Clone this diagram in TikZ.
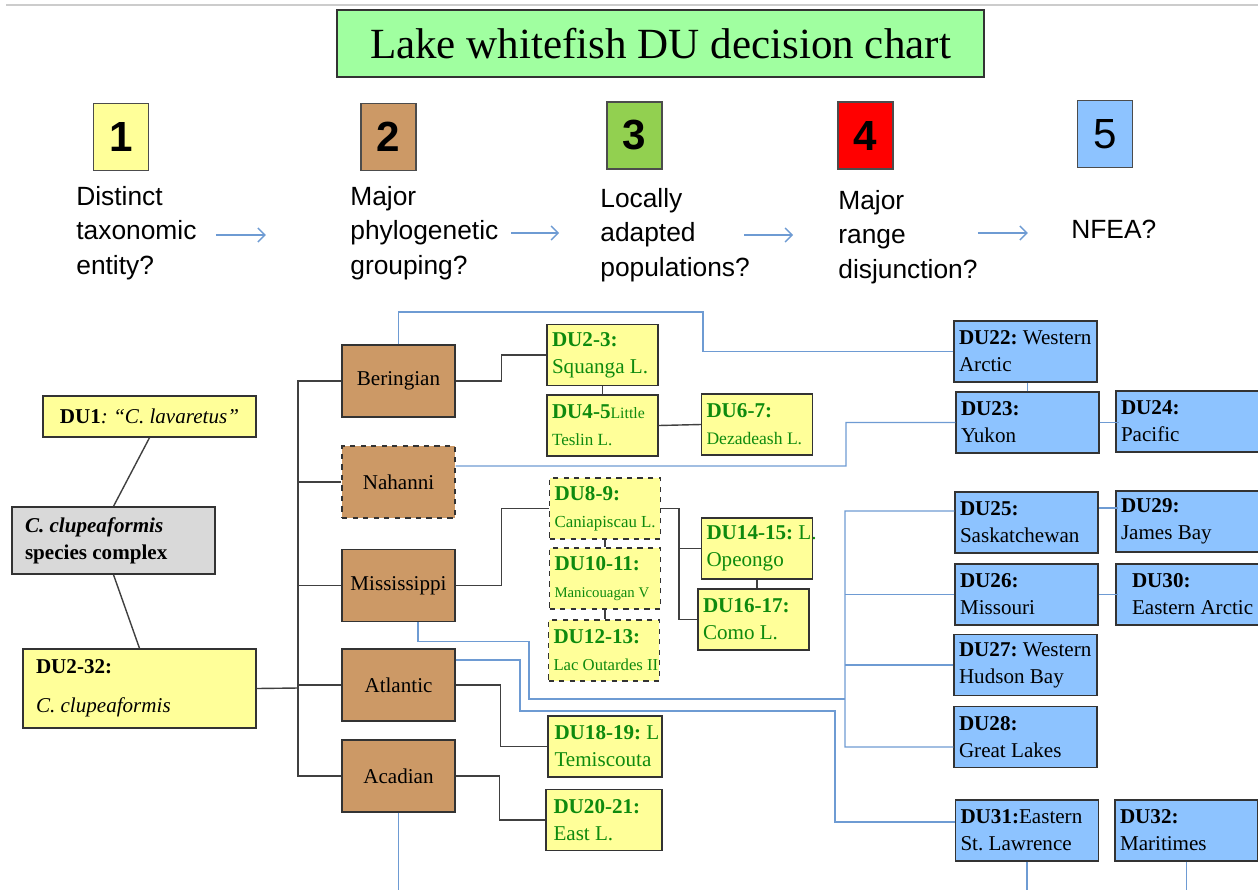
\documentclass[tikz,border=0pt]{standalone}
\usepackage{fontspec}
\setmainfont{Liberation Serif}
\newfontfamily\arialfont{Liberation Sans}
\usepackage{xcolor}
\definecolor{TitleGreen}{HTML}{A0FFA0}
\definecolor{DUyellow}{HTML}{FFFF99}
\definecolor{DUbrown}{HTML}{CC9966}
\definecolor{DUgray}{HTML}{D9D9D9}
\definecolor{DUblue}{HTML}{8DC3FF}
\definecolor{StepGreen}{HTML}{92D050}
\definecolor{StepRed}{HTML}{FF0000}
\definecolor{LineBlue}{HTML}{6E9BD3}
\definecolor{DUgreen}{HTML}{0E8A0E}
\usepackage{tikz}
\usetikzlibrary{arrows.meta}
\frenchspacing
\tikzset{
  stepnum/.style={
    rectangle, draw=black!70, line width=0.9pt,
    minimum width=1.1cm, minimum height=1.34cm, inner sep=0pt,
    font=\arialfont\fontsize{24}{28}\selectfont
  },
  qtext/.style={anchor=west, align=left, inner sep=0pt,
    font=\arialfont\fontsize{15}{19.8}\selectfont},
  ybox/.style={
    rectangle, draw=black!80, line width=0.8pt, fill=DUyellow,
    minimum width=2.22cm, minimum height=1.22cm,
    text width=2.02cm, inner xsep=0.1cm, inner ysep=0pt, align=flush left,
    text=DUgreen, font=\fontsize{12}{15.3}\selectfont
  },
  bbox/.style={
    rectangle, draw=black!80, line width=0.8pt, fill=DUblue,
    minimum width=2.86cm, minimum height=1.22cm,
    text width=2.66cm, inner xsep=0.1cm, inner ysep=0pt, align=flush left,
    font=\fontsize{12}{15.3}\selectfont
  },
  brbox/.style={
    rectangle, draw=black!80, line width=0.8pt, fill=DUbrown,
    minimum width=2.26cm, minimum height=1.44cm, align=center,
    font=\fontsize{12}{15}\selectfont
  },
  blk/.style={draw=black!75, line width=0.8pt},
  bl/.style={draw=LineBlue, line width=0.8pt},
  qarr/.style={-{Straight Barb[length=4pt,width=8pt]}, draw=LineBlue, line width=0.8pt},
}

\begin{document}
\begin{tikzpicture}[x=0.02cm, y=-0.02cm]
\useasboundingbox (0,0) rectangle (1258,890);
\draw[black!20, line width=0.6pt] (6,5) -- (1258,5);

% Title
\node[draw=black!80, line width=1pt, fill=TitleGreen, minimum width=12.94cm,
  minimum height=1.34cm, font=\fontsize{24.5}{28}\selectfont] (title) at (660.5,43.5)
  {Lake whitefish DU decision chart};

% Five steps of the chart
\node[stepnum, fill=DUyellow] (s1) at (121,137) {\textbf{1}};
\node[stepnum, fill=DUbrown] (s2) at (388.5,137) {\textbf{2}};
\node[stepnum, fill=StepGreen] (s3) at (634.5,135.5) {\textbf{3}};
\node[stepnum, fill=StepRed] (s4) at (865.5,135.5) {\textbf{4}};
\node[stepnum, fill=DUblue] (s5) at (1105,134) {5};

\node[qtext] (q1) at (76,233) {Distinct\\taxonomic\\entity?};
\node[qtext] (q2) at (350,233) {Major\\phylogenetic\\grouping?};
\node[qtext] (q3) at (600,235) {Locally\\adapted\\populations?};
\node[qtext] (q4) at (838,237) {Major\\range\\disjunction?};
\node[qtext] (q5) at (1071,229) {NFEA?};

\draw[qarr] ([xshift=0.38cm,yshift=-0.04cm]q1.east) -- ++(50,0);
\draw[qarr] ([xshift=0.25cm]q2.east) -- ++(48,0);
\draw[qarr] ([xshift=-0.12cm]q3.east) -- ++(49,0);
\draw[qarr] ([yshift=0.08cm]q4.east) -- ++(50,0);

% Species level
\node[rectangle, draw=black!80, line width=0.8pt, fill=DUyellow, minimum width=4.26cm,
  minimum height=0.82cm, font=\fontsize{12}{15}\selectfont] (du1) at (149.5,416.5)
  {\textbf{DU1}\textit{: “C. lavaretus”}};
\node[rectangle, draw=black!80, line width=0.8pt, fill=DUgray, minimum width=4.06cm,
  minimum height=1.34cm, text width=3.54cm, inner xsep=0.26cm, align=flush left,
  font=\fontsize{12}{15.3}\selectfont] (spc) at (113.5,540.5)
  {\textbf{\textit{C. clupeaformis}}\\\textbf{species complex}};
\node[rectangle, draw=black!80, line width=0.8pt, fill=DUyellow, minimum width=4.66cm,
  minimum height=1.58cm, text width=4.14cm, inner xsep=0.26cm, align=flush left,
  font=\fontsize{12}{15.3}\selectfont] (du232) at (139.5,688.5)
  {\textbf{DU2-32:}\\[7pt]\textit{C. clupeaformis}};

% Phylogenetic groupings
\node[brbox] (ber) at (398.5,381) {Beringian};
\node[brbox, dashed] (nah) at (398.5,482) {Nahanni};
\node[brbox] (mis) at (398.5,585.5) {Mississippi};
\node[brbox] (atl) at (398.5,685) {Atlantic};
\node[brbox] (aca) at (398.5,776) {Acadian};

% Locally adapted populations
\node[ybox] (du23) at (602.5,355) {\textbf{DU2-3:}\\Squanga L.};
\node[ybox] (du45) at (602.5,425.5)
  {\mbox{\textbf{DU4-5}{\fontsize{9}{11}\selectfont Little}}\\{\fontsize{9.7}{12}\selectfont\mbox{Teslin L.}}};
\node[ybox] (du67) at (757,424.5)
  {\textbf{DU6-7:}\\{\fontsize{10}{12}\selectfont\mbox{Dezadeash L.}}};
\node[ybox, dashed] (du89) at (605,508.5)
  {\textbf{DU8-9:}\\{\fontsize{9.6}{12}\selectfont\mbox{Caniapiscau L.}}};
\node[ybox, dashed] (du1011) at (605,578.5)
  {\textbf{DU10-11:}\\{\fontsize{8.4}{12}\selectfont\mbox{Manicouagan V}}};
\node[ybox, dashed] (du1213) at (604,650.5)
  {\textbf{DU12-13:}\\{\fontsize{9.5}{12}\selectfont\mbox{Lac Outardes II}}};
\node[ybox] (du1415) at (757,548.5) {\mbox{\textbf{DU14-15:} L.}\\Opeongo};
\node[ybox] (du1617) at (753.5,619.5) {\textbf{DU16-17:}\\Como L.};
\node[ybox, minimum width=2.28cm] (du1819) at (605,746.5) {\mbox{\textbf{DU18-19:} L}\\Temiscouta};
\node[ybox, minimum width=2.32cm] (du2021) at (604,820) {\textbf{DU20-21:}\\East L.};

% Range disjunctions
\node[bbox] (du22) at (1025.5,351.5) {\mbox{\textbf{DU22:} Western}\\Arctic};
\node[bbox] (du23b) at (1027.5,422.5) {\textbf{DU23:}\\Yukon};
\node[bbox, minimum width=2.82cm] (du24) at (1187.5,421.5) {\textbf{DU24:}\\Pacific};
\node[bbox] (du25) at (1026.5,522.5) {\textbf{DU25:}\\Saskatchewan};
\node[bbox, minimum width=2.82cm] (du29) at (1187.5,521.5) {\textbf{DU29:}\\James Bay};
\node[bbox] (du26) at (1026.5,594.5) {\textbf{DU26:}\\Missouri};
\node[bbox, minimum width=2.82cm] (du30) at (1187.5,594.5)
  {\hspace*{0.22cm}\textbf{DU30:}\\\hspace*{0.22cm}\mbox{Eastern Arctic}};
\node[bbox] (du27) at (1025.5,665) {\mbox{\textbf{DU27:} Western}\\Hudson Bay};
\node[bbox] (du28) at (1025.5,737) {\textbf{DU28:}\\Great Lakes};
\node[bbox] (du31) at (1027,830.5) {\mbox{\textbf{DU31:}Eastern}\\St. Lawrence};
\node[bbox] (du32) at (1186.5,830.5) {\textbf{DU32:}\\Maritimes};

% Black tree
\draw[blk] (du1.south) -- (spc.north);
\draw[blk] (spc.south) -- (du232.north);
\coordinate (tr) at (298,688);
\draw[blk] (du232.east) -- (tr);
\draw[blk] (ber.west) -| (tr |- aca.west) -- (aca.west);
\foreach \n in {nah,mis,atl}
  \draw[blk] (\n.west) -- (\n.west -| tr);

\draw[blk] (ber.east) -- ++(46,0) |- (du23.west);
\draw[blk] (du23.south) -- (du45.north);
\draw[blk] (du45.east) -- (du67.west);
\draw[blk] (mis.east) -- ++(46,0) |- (du89.west);
\draw[blk] (du89.south) -- (du1011.north);
\draw[blk] (du1011.south) -- (du1011.south |- du1213.north);
\draw[blk] (du89.east) -- ++(18,0) |- (du1617.west);
\draw[blk] (du1415.west) -- ++(-22,0);
\draw[blk] (du1415.south) -- (du1415.south |- du1617.north);
\draw[blk] (atl.east) -- ++(45,0) |- (du1819.west);
\draw[blk] (aca.east) -- ++(44,0) |- (du2021.west);

% Blue links to the range boxes
\coordinate (bj) at (703,312);
\draw[bl] (ber.north) |- (bj) |- (du22.west);
\draw[bl] (du23b.north) -- (du23b.north |- du22.south);
\coordinate (nj) at (846,466);
\draw[bl] ([yshift=0.32cm]nah.east) -- (nj) |- (du23b.west);
\draw[bl] (du23b.east) -- ++(19,0);

\coordinate (mbot) at (845,747);
\draw[bl] ([yshift=0.23cm]du25.west) -| (mbot) -- ([yshift=-0.2cm]du28.west);
\draw[bl] (du26.west) -- (du26.west -| mbot);
\draw[bl] (du27.west) -- (du27.west -| mbot);
\draw[bl] ([yshift=0.29cm]du25.east) -- ++(19,0);
\draw[bl] (du26.east) -- ++(19,0);

\coordinate (mj) at (529,699);
\draw[bl] ([xshift=0.39cm]mis.south) -- ++(0,19) -| (mj) -- (mj -| mbot);
\coordinate (aj1) at (520,711);
\coordinate (aj2) at (835,822);
\draw[bl] ([yshift=0.5cm]atl.east) -| (aj1) -| (aj2) -- (du31.west |- aj2);

\coordinate (bot) at (0,890);
\foreach \n in {aca,du31,du32}
  \draw[bl] (\n.south) -- (\n.south |- bot);

\end{tikzpicture}
\end{document}
